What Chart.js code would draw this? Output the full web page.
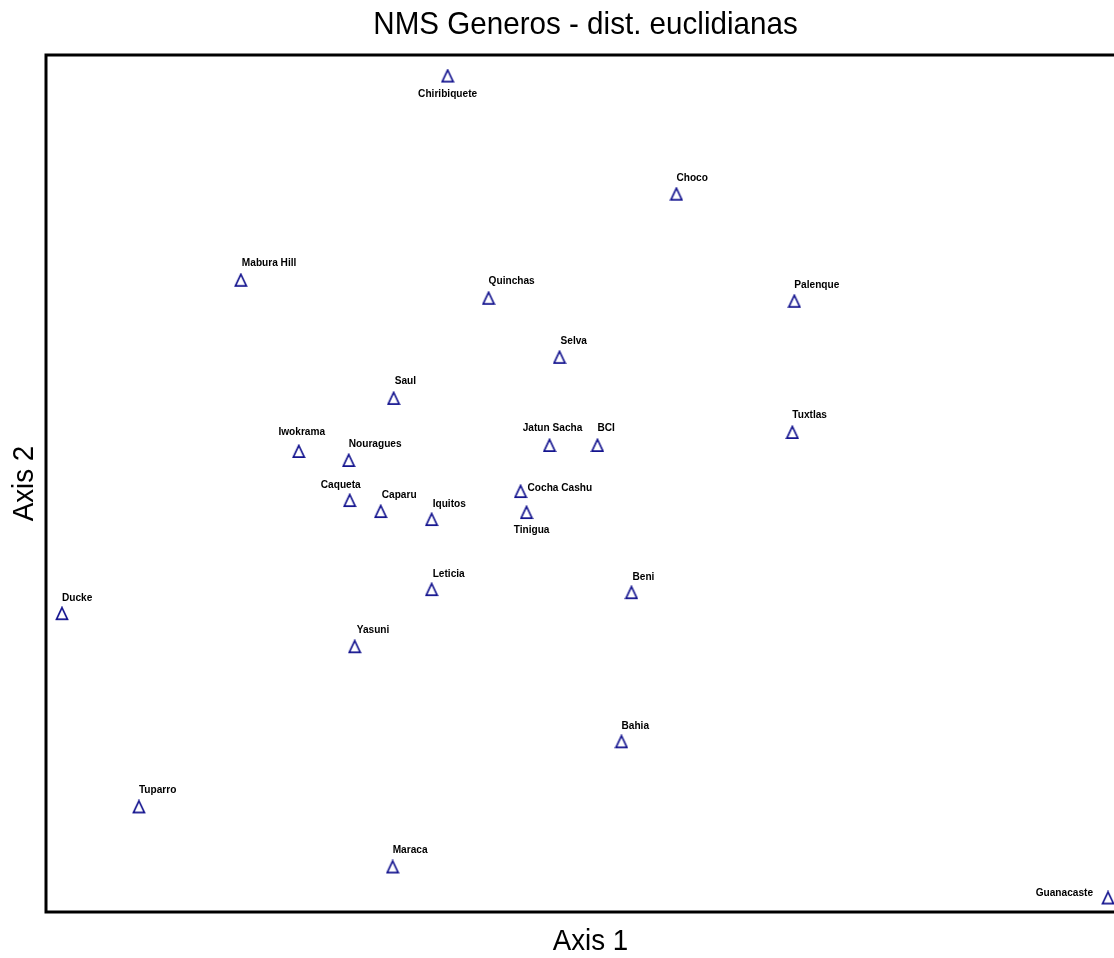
<!DOCTYPE html>
<html>
<head>
<meta charset="utf-8">
<title>NMS Generos - dist. euclidianas</title>
<script src="https://cdn.jsdelivr.net/npm/chart.js@4/dist/chart.umd.min.js"></script>
<style>
  html, body { margin: 0; padding: 0; background: #fff; overflow: hidden; }
  #wrap { position: relative; width: 1170px; height: 958px; }
</style>
</head>
<body>
<div id="wrap"><canvas id="c" width="1170" height="958"></canvas></div>
<script>
// Sites (plot order) and their NMS ordination scores
const sites = [
  'Chiribiquete', 'Choco', 'Mabura Hill', 'Quinchas', 'Palenque', 'Selva',
  'Saul', 'Tuxtlas', 'Iwokrama', 'Jatun Sacha', 'BCI', 'Nouragues',
  'Cocha Cashu', 'Caqueta', 'Caparu', 'Iquitos', 'Tinigua', 'Leticia',
  'Beni', 'Ducke', 'Yasuni', 'Bahia', 'Tuparro', 'Maraca', 'Guanacaste'
];
const axis1 = [
  -0.196, 0.262, -0.610, -0.114, 0.498, 0.028,
  -0.304, 0.494, -0.494, 0.008, 0.104, -0.394,
  -0.050, -0.392, -0.330, -0.228, -0.038, -0.228,
  0.172, -0.968, -0.382, 0.152, -0.814, -0.306, 1.126
];
const axis2 = [
  0.670, 0.434, 0.262, 0.226, 0.220, 0.108,
  0.026, -0.042, -0.080, -0.068, -0.068, -0.098,
  -0.160, -0.178, -0.200, -0.216, -0.202, -0.356,
  -0.362, -0.404, -0.470, -0.660, -0.790, -0.910, -0.972
];
const axis1Range = [-1.0, 1.18];
const axis2Range = [-1.0, 0.712];

// Where each site name sits relative to its marker: [dx, dy, align]
const labelPlacement = [
  [0, 18, 'center'], [0, -16, 'left'], [1, -17, 'left'], [0, -17, 'left'], [0, -16, 'left'], [1, -16, 'left'],
  [1, -17, 'left'], [0, -17, 'left'], [3, -19, 'center'], [3, -17, 'center'], [0, -17, 'left'], [0, -17, 'left'],
  [7, -4, 'left'], [-9, -16, 'center'], [1, -17, 'left'], [1, -16, 'left'], [5, 17, 'center'], [1, -16, 'left'],
  [1, -16, 'left'], [0, -16, 'left'], [2, -17, 'left'], [0, -16, 'left'], [0, -17, 'left'], [0, -17, 'left'],
  [-15, -5, 'right']
];

const MARK = '#14148f';

// Open triangle marker
function makeTriangle() {
  const cv = document.createElement('canvas');
  cv.width = 14; cv.height = 15;
  const g = cv.getContext('2d');
  g.strokeStyle = MARK;
  g.lineWidth = 1.7;
  g.beginPath();
  g.moveTo(7, 1.5);
  g.lineTo(12.5, 13.2);
  g.lineTo(1.5, 13.2);
  g.closePath();
  g.stroke();
  return cv;
}

const points = sites.map((s, i) => ({ x: axis1[i], y: axis2[i] }));

function condensedText(ctx, text, x, y, font, sx, align, rotate) {
  ctx.save();
  ctx.translate(x, y);
  if (rotate) ctx.rotate(rotate);
  ctx.scale(sx, 1);
  ctx.font = font;
  ctx.textAlign = align;
  ctx.textBaseline = 'middle';
  ctx.fillStyle = '#000';
  ctx.fillText(text, 0, 0);
  ctx.restore();
}

const framePlugin = {
  id: 'frameAndText',
  beforeDatasetsDraw(chart) {
    const { ctx, chartArea: a } = chart;
    ctx.save();
    ctx.strokeStyle = '#000';
    ctx.lineWidth = 3;
    ctx.strokeRect(a.left, a.top, a.right - a.left, a.bottom - a.top);
    ctx.restore();
  },
  afterDatasetsDraw(chart) {
    const { ctx, chartArea: a, scales } = chart;
    // site names
    ctx.save();
    ctx.fillStyle = '#000';
    sites.forEach((name, i) => {
      const px = scales.x.getPixelForValue(axis1[i]);
      const py = scales.y.getPixelForValue(axis2[i]);
      const [dx, dy, align] = labelPlacement[i];
      condensedText(ctx, name, px + dx, py + dy,
        'bold 11px "Liberation Sans", Arial, sans-serif', 0.92, align);
    });
    ctx.restore();
    // title and axis titles
    const cx = (a.left + a.right) / 2;
    const cy = (a.top + a.bottom) / 2;
    condensedText(ctx, 'NMS Generos - dist. euclidianas', cx - 5, 25,
      '32px "Liberation Sans", Arial, sans-serif', 0.925, 'center');
    condensedText(ctx, 'Axis 1', cx, 942,
      '30px "Liberation Sans", Arial, sans-serif', 0.925, 'center');
    condensedText(ctx, 'Axis 2', 25, cy,
      '30px "Liberation Sans", Arial, sans-serif', 0.925, 'center', -Math.PI / 2);
  }
};

new Chart(document.getElementById('c'), {
  type: 'scatter',
  data: {
    datasets: [{
      label: 'Sites',
      data: points,
      pointStyle: makeTriangle(),
      pointRadius: 7,
      pointHoverRadius: 7
    }]
  },
  options: {
    responsive: false,
    animation: false,
    events: [],
    layout: { padding: { left: 46, top: 55, right: 35, bottom: 46 } },
    plugins: { legend: { display: false }, tooltip: { enabled: false }, title: { display: false } },
    scales: {
      x: { type: 'linear', display: false, min: axis1Range[0], max: axis1Range[1] },
      y: { type: 'linear', display: false, min: axis2Range[0], max: axis2Range[1] }
    }
  },
  plugins: [framePlugin]
});
</script>
</body>
</html>
